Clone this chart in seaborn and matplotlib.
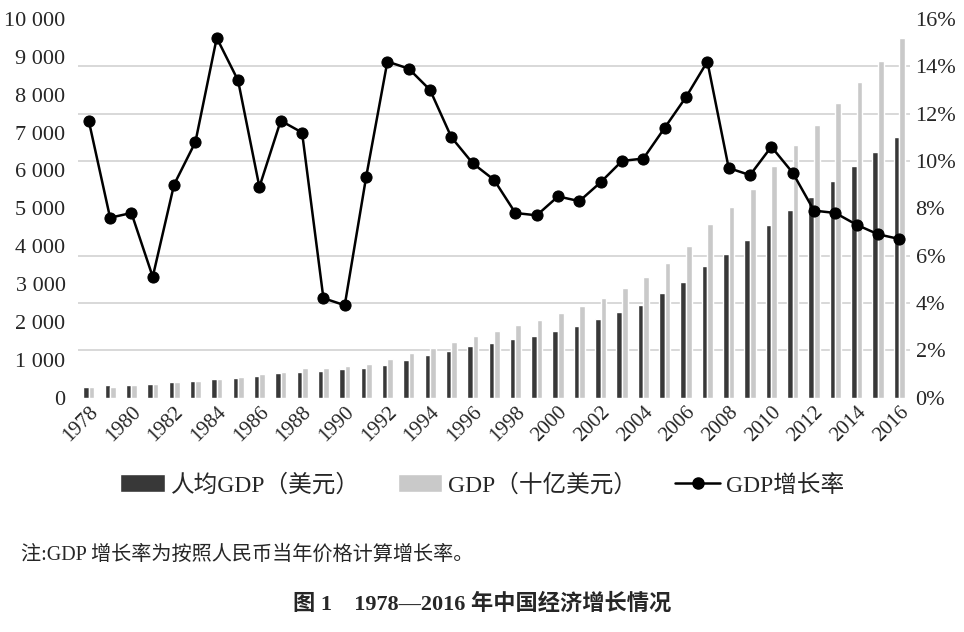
import numpy as np
import pandas as pd
import matplotlib
matplotlib.use("Agg")
import matplotlib.pyplot as plt
from matplotlib.ticker import MultipleLocator, FuncFormatter
from matplotlib.lines import Line2D
import seaborn as sns

years = list(range(1978, 2017))
per_capita = [290, 335, 335, 362, 400, 440, 485, 525, 573, 652,
              678, 713, 750, 776, 863, 995, 1120, 1225, 1350, 1445,
              1535, 1630, 1745, 1890, 2075, 2260, 2455, 2750, 3055, 3475,
              3785, 4150, 4565, 4960, 5310, 5730, 6115, 6480, 6870]
gdp = [290, 290, 335, 362, 400, 440, 485, 555, 626, 678,
       776, 792, 845, 898, 1014, 1188, 1305, 1470, 1630, 1745,
       1915, 2035, 2245, 2410, 2640, 2905, 3195, 3550, 4005, 4585,
       5030, 5505, 6110, 6680, 7190, 7780, 8340, 8890, 9490]
growth = [11.7, 7.6, 7.8, 5.1, 9.0, 10.8, 15.2, 13.4, 8.9, 11.7,
          11.2, 4.2, 3.9, 9.3, 14.2, 13.9, 13.0, 11.0, 9.9, 9.2,
          7.8, 7.7, 8.5, 8.3, 9.1, 10.0, 10.1, 11.4, 12.7, 14.2,
          9.7, 9.4, 10.6, 9.5, 7.9, 7.8, 7.3, 6.9, 6.7]

s1 = "人均GDP（美元）"
s2 = "GDP（十亿美元）"
s3 = "GDP增长率"
note = "注:GDP 增长率为按照人民币当年价格计算增长率。"
title = "图 1　1978—2016 年中国经济增长情况"

sns.set_theme(style="white")
plt.rcParams["font.family"] = ["Liberation Serif", "Noto Sans CJK SC", "DejaVu Sans"]

df = pd.DataFrame({
    "year": [str(y) for y in years] * 2,
    "value": per_capita + gdp,
    "series": [s1] * len(years) + [s2] * len(years),
})

fig = plt.figure(figsize=(9.64, 6.32), dpi=100)
ax = fig.add_axes([0.081, 0.371, 0.863, 0.599])

sns.barplot(data=df, x="year", y="value", hue="series",
            palette=["#383838", "#c9c9c9"], width=0.52, gap=0,
            ax=ax, legend=True, saturation=1)
bar_handles, bar_labels = ax.get_legend_handles_labels()
ax.get_legend().remove()

ax.set_ylim(0, 10000)
ax.set_xlim(-0.5, len(years) - 0.5)
ax.yaxis.set_major_locator(MultipleLocator(1000))
ax.yaxis.set_minor_locator(MultipleLocator(1250))
ax.yaxis.set_major_formatter(FuncFormatter(lambda v, p: f"{int(v):,}".replace(",", " ")))
ax.grid(False)
ax.grid(which="minor", axis="y", color="#d6d6d6", linewidth=1.3)
ax.set_axisbelow(True)
ax.tick_params(axis="y", which="both", length=0, pad=9, labelsize=16)
ax.set_xticks(range(0, len(years), 2))
ax.set_xticklabels([str(y) for y in years[::2]], rotation=45, ha="right",
                   rotation_mode="anchor", fontsize=15)
ax.tick_params(axis="x", length=0, pad=4)
ax.set_xlabel("")
ax.set_ylabel("")
for sp in ax.spines.values():
    sp.set_visible(False)

ax2 = ax.twinx()
sns.lineplot(x=np.arange(len(years)), y=np.array(growth) / 100, ax=ax2,
             color="black", linewidth=1.8, marker="o", markersize=8,
             markeredgecolor="black", markerfacecolor="black")
ax2.set_ylim(0, 0.16)
ax2.yaxis.set_major_locator(MultipleLocator(0.02))
ax2.yaxis.set_major_formatter(FuncFormatter(lambda v, p: f"{v*100:.0f}%"))
ax2.tick_params(axis="y", length=0, pad=4, labelsize=16)
ax2.grid(False)
ax2.set_ylabel("")
for sp in ax2.spines.values():
    sp.set_visible(False)
ax2.set_xlim(-0.5, len(years) - 0.5)

line_handle = Line2D([], [], color="black", linewidth=1.8, marker="o",
                     markersize=8)
fig.legend(bar_handles + [line_handle], [s1, s2, s3], loc="center",
           bbox_to_anchor=(0.5, 0.232), ncol=3, frameon=False,
           handlelength=1.9, handleheight=0.8,
           columnspacing=1.6, handletextpad=0.25,
           prop={"family": ["Liberation Serif", "Noto Sans CJK SC"], "size": 17})

fig.text(0.022, 0.122, note, fontsize=14.5, ha="left", va="center",
         family=["Liberation Serif", "Noto Sans CJK SC"])
fig.text(0.5, 0.044, title, fontsize=16, ha="center", va="center",
         fontweight="bold", family=["Liberation Serif", "Noto Sans CJK SC"])

fig.savefig("out.png", dpi=100, facecolor="white")
